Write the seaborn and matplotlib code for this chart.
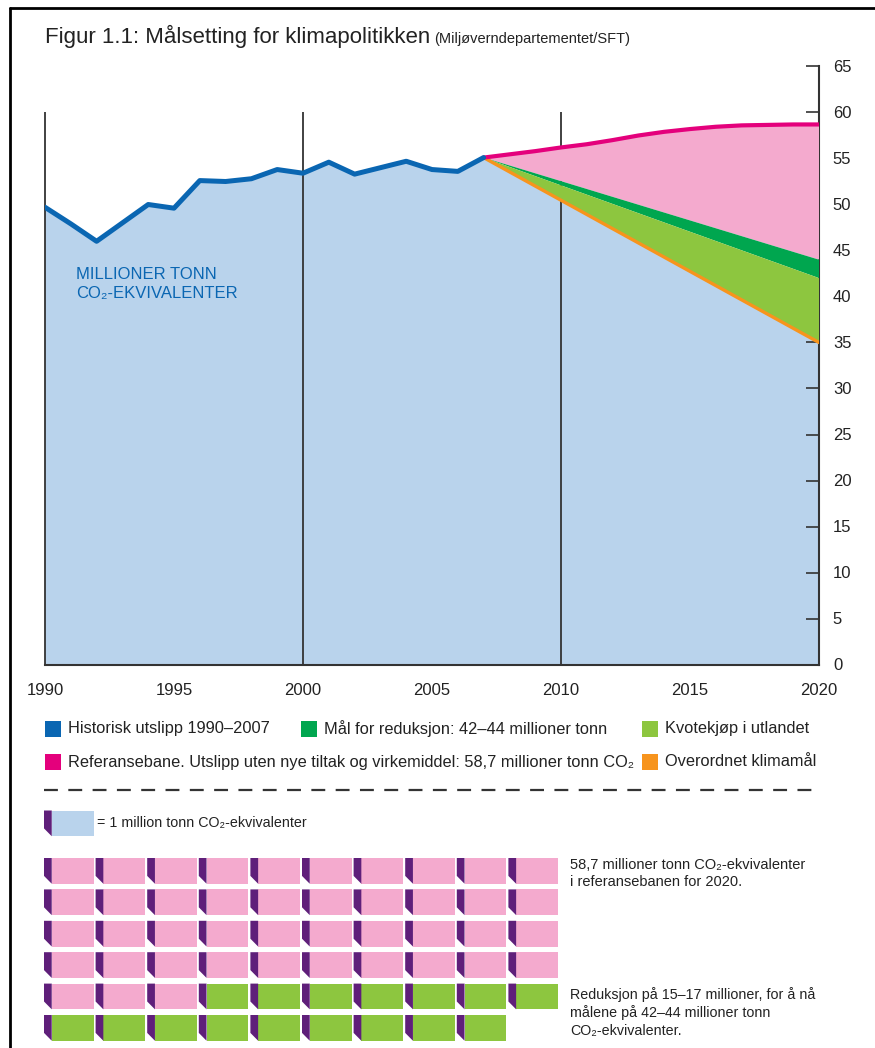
import numpy as np
import matplotlib
matplotlib.use("Agg")
import matplotlib.pyplot as plt
import seaborn as sns
from matplotlib.lines import Line2D
from matplotlib.patches import Rectangle

sns.set_theme(style="white")
plt.rcParams["font.family"] = ["Liberation Sans", "DejaVu Sans"]
plt.rcParams["lines.scale_dashes"] = False

# DATA

hist_years = list(range(1990, 2008))
hist_vals = [49.7, 47.9, 46.0, 48.0, 50.0, 49.6, 52.6, 52.5, 52.8, 53.8,
             53.4, 54.6, 53.3, 54.0, 54.7, 53.8, 53.6, 55.1]

ref_years = list(range(2007, 2021))
ref_vals = [55.1, 55.45, 55.8, 56.2, 56.55, 57.0, 57.5, 57.9, 58.2, 58.45,
            58.6, 58.65, 58.7, 58.7]

target_years = [2007, 2020]
target_high = [55.1, 44.0]
target_low = [55.1, 42.0]
overall_goal = [55.1, 35.0]

grid_years = [1990, 2000, 2010]

legend_labels = [
    "Historisk utslipp 1990–2007",
    "Mål for reduksjon: 42–44 millioner tonn",
    "Kvotekjøp i utlandet",
    "Referansebane. Utslipp uten nye tiltak og virkemiddel: 58,7 millioner tonn CO₂",
    "Overordnet klimamål",
]

icon_labels = ["Referansebane 2020", "Reduksjon"]
icon_counts = [43, 16]

# COLOURS

BLUE = "#0a66b2"
LIGHT_BLUE = "#b9d3ec"
PINK_LINE = "#e4007c"
PINK_FILL = "#f4aace"
DARK_GREEN = "#00a64f"
LIGHT_GREEN = "#8dc63f"
ORANGE = "#f7941d"
PURPLE = "#5f1f7a"
DARK = "#333333"
TEXT = "#222222"

legend_colors = [BLUE, DARK_GREEN, LIGHT_GREEN, PINK_LINE, ORANGE]
icon_colors = [PINK_FILL, LIGHT_GREEN]

W, H = 875, 1048


def fx(x):
    return x / W


def fy(y):
    return 1 - y / H


fig = plt.figure(figsize=(W / 100, H / 100), dpi=100)
fig.patch.set_facecolor("white")

# PART 1 — MAIN CHART

ax = fig.add_axes([fx(45), fy(664.5), (819 - 45) / W, (664.5 - 66.5) / H])
ax.set_facecolor("none")

ax.fill(hist_years + [2020, 2020, 1990], hist_vals + [overall_goal[-1], 0, 0],
        color=LIGHT_BLUE, lw=0, zorder=1)
ax.vlines(grid_years, 0, 60, color=DARK, lw=1.3, zorder=2, clip_on=False)
ax.fill(ref_years + target_years[::-1], ref_vals + target_high[::-1],
        color=PINK_FILL, lw=0, zorder=3)
ax.fill(target_years + target_years[::-1], target_high + target_low[::-1],
        color=DARK_GREEN, lw=0, zorder=3)
ax.fill(target_years + target_years[::-1], target_low + overall_goal[::-1],
        color=LIGHT_GREEN, lw=0, zorder=3)

sns.lineplot(x=target_years, y=overall_goal, ax=ax, color=ORANGE, lw=2.4, zorder=4)
sns.lineplot(x=ref_years, y=ref_vals, ax=ax, color=PINK_LINE, lw=3.0, zorder=4)
sns.lineplot(x=hist_years, y=hist_vals, ax=ax, color=BLUE, lw=3.6, zorder=5)

ax.set_xlim(1990, 2020)
ax.set_ylim(0, 65)
ax.set_xlabel("")
ax.set_ylabel("")
ax.set_axisbelow(False)
ax.yaxis.tick_right()
ax.set_yticks(range(0, 66, 5))
ax.set_xticks(range(1990, 2021, 5))
ax.set_xticks(range(1990, 2021), minor=True)
for s in ["left", "top"]:
    ax.spines[s].set_visible(False)
for s in ["right", "bottom"]:
    ax.spines[s].set_color(DARK)
    ax.spines[s].set_linewidth(1.5)
ax.tick_params(axis="x", which="both", direction="in", length=9.5, width=1.2,
               color=DARK, pad=13, labelsize=12, labelcolor=TEXT)
ax.tick_params(axis="y", which="both", direction="in", length=9.5, width=1.2,
               color=DARK, pad=10, labelsize=12, labelcolor=TEXT,
               right=True, left=False)

ax.text(1991.2, 43.2, "MILLIONER TONN\nCO₂-EKVIVALENTER", color=BLUE,
        fontsize=12, va="top", ha="left", linespacing=1.35, zorder=6)

# title
title = fig.text(fx(45), fy(43), "Figur 1.1: Målsetting for klimapolitikken",
                 fontsize=16, va="baseline", ha="left", color=TEXT)
fig.canvas.draw()
bb = title.get_window_extent()
fig.text((bb.x1 + 4) / W, fy(43), "(Miljøverndepartementet/SFT)",
         fontsize=10.5, va="baseline", ha="left", color=TEXT)

# legend
legend_pos = [(45, 728.5), (301, 728.5), (642, 728.5), (45, 762), (642, 762)]
for (x, y), lab, col in zip(legend_pos, legend_labels, legend_colors):
    fig.add_artist(Rectangle((fx(x), fy(y + 8)), 16 / W, 16 / H,
                             transform=fig.transFigure, color=col, lw=0))
    fig.text(fx(x + 23), fy(y), lab, fontsize=11.8, va="center", ha="left",
             color=TEXT)

fig.add_artist(Line2D([fx(44), fx(820)], [fy(790), fy(790)],
                      transform=fig.transFigure, color=DARK, lw=1.6,
                      ls=(0, (10, 7.5))))

# frame
fig.add_artist(Line2D([fx(10), fx(10)], [0, fy(8)], transform=fig.transFigure,
                      color="black", lw=2))
fig.add_artist(Line2D([fx(10), 1], [fy(8), fy(8)], transform=fig.transFigure,
                      color="black", lw=2))

# PART 2 — ICON CHART

col_px, row_px = 51.6, 31.4
iax = fig.add_axes([fx(44), 0, 10 * col_px / W, 248 / H])
top_row = (800 - 858) / row_px
iax.set_xlim(0, 10)
iax.set_ylim(top_row + 248 / row_px, top_row)
iax.axis("off")

colors = np.repeat(icon_colors, icon_counts)
idx = np.arange(len(colors))
cols = idx % 10
rows = idx // 10

ICON_H, SPINE_W, BODY_W = 0.82, 0.15, 0.81


def draw_icon(c, r, color):
    iax.bar(c + SPINE_W, ICON_H, width=BODY_W, bottom=r, align="edge",
            color=color, lw=0)
    iax.fill([c, c + SPINE_W, c + SPINE_W, c],
             [r, r, r + ICON_H, r + ICON_H - 0.25], color=PURPLE, lw=0)


for c, r, color in zip(cols, rows, colors):
    draw_icon(c, r, color)

legend_row = (810.5 - 858) / row_px
draw_icon(0, legend_row, LIGHT_BLUE)
iax.text(1.03, legend_row + ICON_H / 2, "= 1 million tonn CO₂-ekvivalenter",
         fontsize=10.3, va="center", ha="left", color=TEXT)

iax.text(10.19, 0.0, "58,7 millioner tonn CO₂-ekvivalenter\ni referansebanen for 2020.",
         fontsize=10.5, va="top", ha="left", color=TEXT, linespacing=1.3)
iax.text(10.19, 4.1, "Reduksjon på 15–17 millioner, for å nå\n"
         "målene på 42–44 millioner tonn\nCO₂-ekvivalenter.",
         fontsize=10.3, va="top", ha="left", color=TEXT, linespacing=1.3)

fig.savefig("out.png", dpi=100, facecolor="white")
